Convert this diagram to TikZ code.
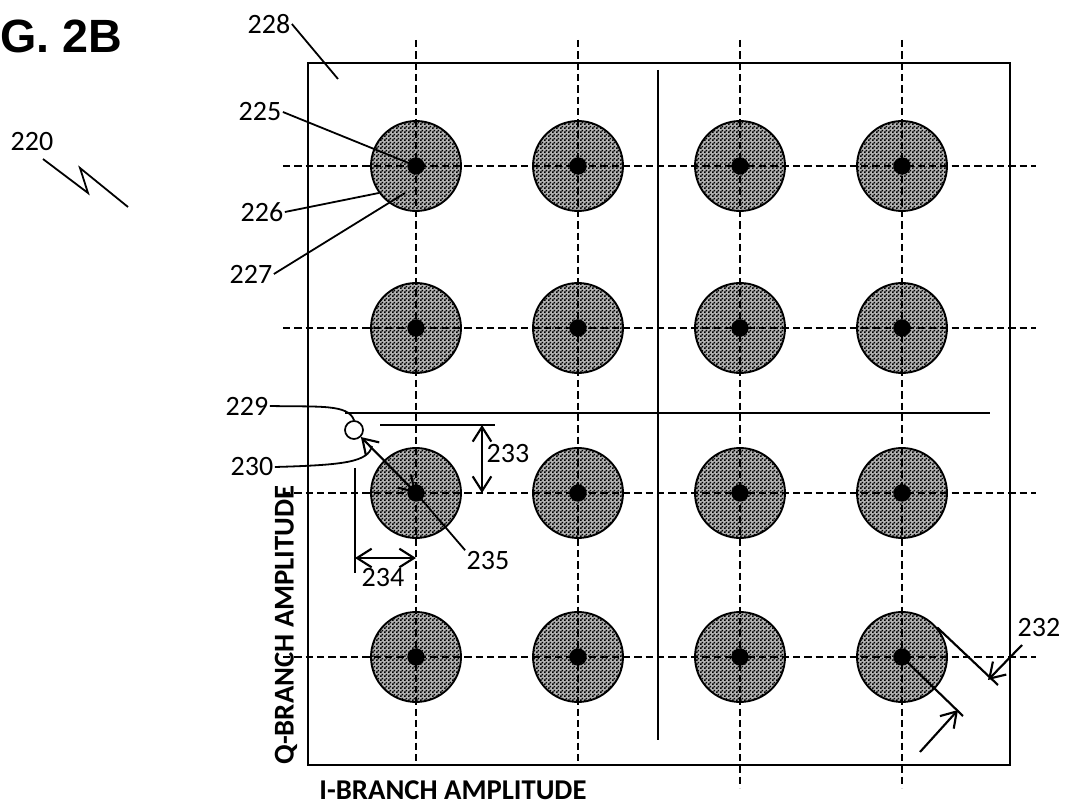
\documentclass[tikz,border=0pt]{standalone}
\usepackage{fontspec}
\setmainfont{Carlito}
\newfontfamily\figfont{Liberation Sans}
\usepackage{tikz}
\usetikzlibrary{positioning, arrows.meta, patterns}
\pgfdeclarepatternformonly{checker}{\pgfpointorigin}{\pgfqpoint{3pt}{3pt}}{\pgfqpoint{3pt}{3pt}}{%
  \pgfpathrectangle{\pgfpointorigin}{\pgfqpoint{1.5pt}{1.5pt}}%
  \pgfpathrectangle{\pgfqpoint{1.5pt}{1.5pt}}{\pgfqpoint{1.5pt}{1.5pt}}%
  \pgfusepath{fill}}

\begin{document}
\begin{tikzpicture}[x=0.75pt, y=-0.75pt, node distance=121.5pt, every node/.style={font=\fontsize{21}{25}\selectfont}]
  \tikzstyle{ideal} = [circle, fill=black, minimum size=13pt, inner sep=0pt]
  \tikzstyle{symbol} = [circle, draw=black, line width=1.4pt, minimum size=67.5pt, inner sep=0pt, preaction={fill=black!30}, pattern=checker, label={[ideal]center:{}}]
  \tikzstyle{received} = [circle, draw=black, line width=1.3pt, minimum size=13.5pt, inner sep=0pt]
  \tikzstyle{refnum} = [inner sep=1pt]
  \tikzstyle{axistitle} = [font=\bfseries\fontsize{21.5}{25}\selectfont]
  \tikzstyle{gridline} = [dash pattern=on 5.5pt off 3pt, line width=1.05pt]
  \tikzstyle{border} = [line width=1.6pt]
  \tikzstyle{leader} = [line width=1.35pt]
  \tikzstyle{arrow} = [line width=1.6pt, >={Straight Barb[length=11pt, width=14pt]}]

  \useasboundingbox (0,0) rectangle (1065,805);

  % frame and decision boundaries
  \draw [border] (308,63) rectangle (1010,765);
  \draw [border] (658,70) -- (658,740);
  \draw [border] (345,413) -- (990,413);

  % constellation points
  \node (p11) [symbol] at (416,166) {};
  \node (p12) [symbol, right of=p11] {};
  \node (p13) [symbol, right of=p12] {};
  \node (p14) [symbol, right of=p13] {};
  \node (p21) [symbol] at (416,328) {};
  \node (p22) [symbol, right of=p21] {};
  \node (p23) [symbol, right of=p22] {};
  \node (p24) [symbol, right of=p23] {};
  \node (p31) [symbol] at (416,493) {};
  \node (p32) [symbol, right of=p31] {};
  \node (p33) [symbol, right of=p32] {};
  \node (p34) [symbol, right of=p33] {};
  \node (p41) [symbol] at (416,657) {};
  \node (p42) [symbol, right of=p41] {};
  \node (p43) [symbol, right of=p42] {};
  \node (p44) [symbol, right of=p43] {};

  % dashed grid
  \draw [gridline] (p11 |- 0,40) -- (p41 |- 0,765);
  \draw [gridline] (p12 |- 0,40) -- (p42 |- 0,765);
  \draw [gridline] (p13 |- 0,40) -- (p43 |- 0,788);
  \draw [gridline] (p14 |- 0,40) -- (p44 |- 0,788);
  \draw [gridline] (p11 -| 283,0) -- (p14 -| 1036,0);
  \draw [gridline] (p21 -| 283,0) -- (p24 -| 1036,0);
  \draw [gridline] (p31 -| 283,0) -- (p34 -| 1036,0);
  \draw [gridline] (p41 -| 283,0) -- (p44 -| 1036,0);

  % title and axes
  \node (fig) [anchor=base west, inner sep=0pt, font=\figfont\bfseries\fontsize{35}{40}\selectfont] at (0,53) {G. 2B};
  \node (qaxis) [axistitle, rotate=90] at (286,625) {Q-BRANCH AMPLITUDE};
  \node (iaxis) [axistitle] at (453,790) {I-BRANCH AMPLITUDE};

  % reference numerals
  \node (l220) [refnum] at (32,142) {220};
  \node (l228) [refnum] at (269,24) {228};
  \node (l225) [refnum] at (260,112) {225};
  \node (l226) [refnum] at (262,212) {226};
  \node (l227) [refnum] at (251,274) {227};
  \node (l229) [refnum] at (247,406) {229};
  \node (l230) [refnum] at (252,467) {230};
  \node (l233) [refnum] at (508,454) {233};
  \node (l234) [refnum] at (383,578) {234};
  \node (l235) [refnum] at (488,561) {235};
  \node (l232) [refnum] at (1039,628) {232};

  \draw [leader] (43,159) -- (88,193) -- (80,168) -- (128,207);

  \coordinate (c228) at (338,79);
  \coordinate (c227) at (405,193);
  \draw [leader] (l228.east) -- (c228);
  \draw [leader] (l225.east) -- (p11.center);
  \draw [leader] (l226.east) -- (p11.216);
  \draw [leader] (l227.east) -- (c227);

  % received symbol and error
  \node (rx) [received] at (354,430) {};
  \coordinate (c230) at (372,446);
  \draw [leader] (l229.east) .. controls (320,407) and (348,404) .. (rx.north);
  \draw [leader] (l230.east) .. controls (345,465) and (368,462) .. (c230);
  \draw [arrow, <->] (rx) -- (p31.center);
  \draw [leader] (p31.center) -- (l235.north west);

  \coordinate (r233) at (380,425);
  \coordinate (s233) at (495,425);
  \coordinate (a233) at (482,425);
  \draw [border] (r233) -- (s233);
  \draw [arrow, <->] (a233) -- (a233 |- p31);

  \coordinate (r234) at (355,468);
  \coordinate (s234) at (355,573);
  \coordinate (a234) at (355,558);
  \draw [border] (r234) -- (s234);
  \draw [arrow, <->] (a234) -- (a234 -| p31);

  % decision radius
  \coordinate (e1) at (998,685);
  \coordinate (e2) at (963,716);
  \coordinate (t1) at (1022,645);
  \coordinate (h1) at (988,680);
  \coordinate (t2) at (920,752);
  \coordinate (h2) at (958,710);
  \draw [border] (p44.40) -- (e1);
  \draw [border] (p44.center) -- (e2);
  \draw [arrow, ->] (t1) -- (h1);
  \draw [arrow, ->] (t2) -- (h2);
\end{tikzpicture}
\end{document}
